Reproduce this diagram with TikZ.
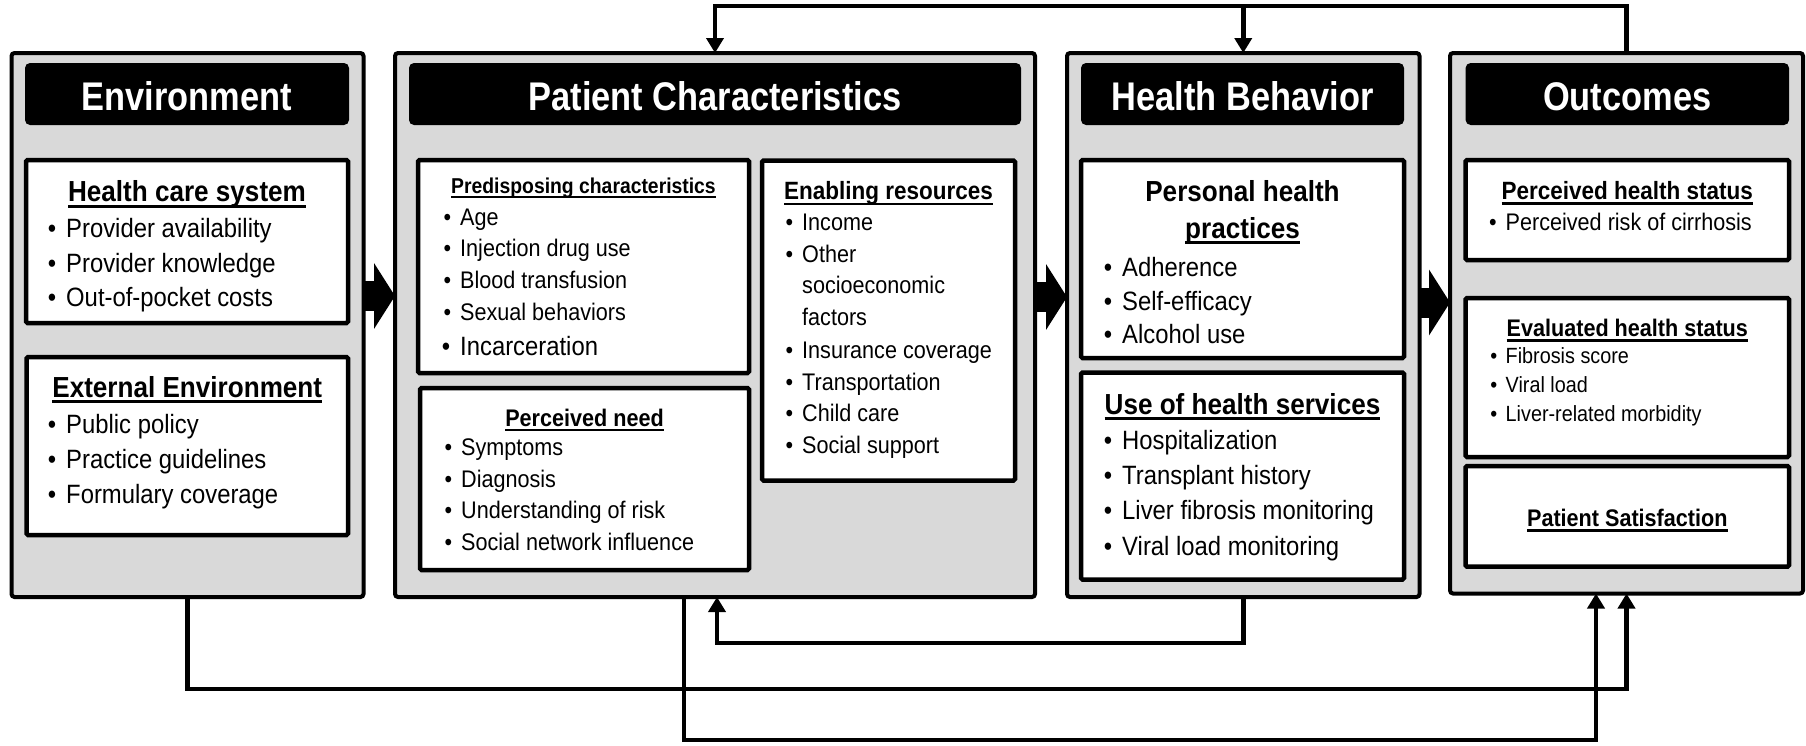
\documentclass[tikz,border=0pt]{standalone}
\usepackage{fontspec}
\setmainfont{Liberation Sans}[FakeStretch=0.9]
\newfontfamily\ttlfont{Liberation Sans}[FakeStretch=0.86]
\usetikzlibrary{arrows.meta}
\definecolor{boxgray}{RGB}{217,217,217}
\newcommand{\fsz}[1]{\fontsize{#1}{#1}\selectfont}
\newcommand{\myul}[1]{\setbox0=\hbox{#1}\leavevmode\rlap{\rule[-0.22em]{\wd0}{0.1em}}\box0}
\newcommand{\bitem}[1]{\llap{\textbullet\hspace{0.38em}}#1}
\begin{document}
\begin{tikzpicture}[x=1pt,y=-1pt,
  outerbox/.style={draw, line width=4pt, fill=boxgray, rounded corners=3pt, inner sep=0pt, outer sep=0pt},
  titlebar/.style={fill=black, rounded corners=5pt, inner sep=0pt, outer sep=0pt, minimum height=62pt},
  innerbox/.style={draw, line width=4.5pt, fill=white, rounded corners=1.5pt, inner sep=0pt, outer sep=0pt},
  ttl/.style={text=white, font=\ttlfont\bfseries\fsz{40}, inner sep=0pt, anchor=base},
  hd/.style={inner sep=0pt, anchor=base},
  bl/.style={inner sep=0pt, anchor=base west},
  conn/.style={line width=4.5pt, line join=miter},
  arr/.style={-{Triangle[width=17pt,length=15pt]}},
  blockarr/.style={line width=30pt, -{Triangle[width=65pt,length=21pt]}},
]
\useasboundingbox (0,0) rectangle (1806,745);

% outer boxes
\node[outerbox, minimum width=352pt, minimum height=544pt] (env) at (187.5,325) {};
\node[outerbox, minimum width=640pt, minimum height=544pt] (pat) at (715,325) {};
\node[outerbox, minimum width=352.5pt, minimum height=544pt] (hb) at (1243.25,325) {};
\node[outerbox, minimum width=353pt, minimum height=540.5pt] (out) at (1626.5,323.25) {};

% title bars
\node[titlebar, minimum width=324pt] (envT) at (187,94) {};
\node[ttl] (envTt) at (187,110) {Environment};
\node[titlebar, minimum width=612pt] (patT) at (715,94) {};
\node[ttl] (patTt) at (715,110) {Patient Characteristics};
\node[titlebar, minimum width=323pt] (hbT) at (1242.5,94) {};
\node[ttl] (hbTt) at (1242.5,110) {Health Behavior};
\node[titlebar, minimum width=323.4pt] (outT) at (1627.3,94) {};
\node[ttl] (outTt) at (1627.3,110) {Outcomes};

% Environment
\node[innerbox, minimum width=322pt, minimum height=163pt] (hcs) at (187,241.5) {};
\node[hd, font=\bfseries\fsz{29}] (hcsH) at (187,201.7) {\myul{Health care system}};
\node[bl, font=\fsz{26.5}] (hcs1) at (66,237.7) {\bitem{Provider availability}};
\node[bl, font=\fsz{26.5}] (hcs2) at (66,272.2) {\bitem{Provider knowledge}};
\node[bl, font=\fsz{26.5}] (hcs3) at (66,306.7) {\bitem{Out-of-pocket costs}};

\node[innerbox, minimum width=321.5pt, minimum height=178pt] (ext) at (187.25,446) {};
\node[hd, font=\bfseries\fsz{29}] (extH) at (187.25,397) {\myul{External Environment}};
\node[bl, font=\fsz{26.5}] (ext1) at (66,433.5) {\bitem{Public policy}};
\node[bl, font=\fsz{26.5}] (ext2) at (66,468.5) {\bitem{Practice guidelines}};
\node[bl, font=\fsz{26.5}] (ext3) at (66,503.5) {\bitem{Formulary coverage}};

% Patient characteristics
\node[innerbox, minimum width=331pt, minimum height=213pt] (pre) at (583.5,266.5) {};
\node[hd, font=\bfseries\fsz{21.5}] (preH) at (583.5,193) {\myul{Predisposing characteristics}};
\node[bl, font=\fsz{24}] (pre1) at (460,225) {\bitem{Age}};
\node[bl, font=\fsz{24}] (pre2) at (460,256.7) {\bitem{Injection drug use}};
\node[bl, font=\fsz{24}] (pre3) at (460,288.3) {\bitem{Blood transfusion}};
\node[bl, font=\fsz{24}] (pre4) at (460,320) {\bitem{Sexual behaviors}};
\node[bl, font=\fsz{26.5}] (pre5) at (460,355) {\bitem{Incarceration}};

\node[innerbox, minimum width=329pt, minimum height=182pt] (pn) at (584.5,479) {};
\node[hd, font=\bfseries\fsz{24}] (pnH) at (584.5,426) {\myul{Perceived need}};
\node[bl, font=\fsz{24}] (pn1) at (461,455.5) {\bitem{Symptoms}};
\node[bl, font=\fsz{24}] (pn2) at (461,487) {\bitem{Diagnosis}};
\node[bl, font=\fsz{24}] (pn3) at (461,518.5) {\bitem{Understanding of risk}};
\node[bl, font=\fsz{24}] (pn4) at (461,550.5) {\bitem{Social network influence}};

\node[innerbox, minimum width=253pt, minimum height=320pt] (enb) at (888.5,320.5) {};
\node[hd, font=\bfseries\fsz{25}] (enbH) at (888.5,199.5) {\myul{Enabling resources}};
\node[bl, font=\fsz{24}] (enb1) at (802,230.5) {\bitem{Income}};
\node[bl, font=\fsz{24}] (enb2) at (802,262) {\bitem{Other}};
\node[bl, font=\fsz{24}] (enb2b) at (802,293.5) {socioeconomic};
\node[bl, font=\fsz{24}] (enb2c) at (802,325) {factors};
\node[bl, font=\fsz{24}] (enb3) at (802,358) {\bitem{Insurance coverage}};
\node[bl, font=\fsz{24}] (enb4) at (802,390) {\bitem{Transportation}};
\node[bl, font=\fsz{24}] (enb5) at (802,421.7) {\bitem{Child care}};
\node[bl, font=\fsz{24}] (enb6) at (802,453.5) {\bitem{Social support}};

% Health behavior
\node[innerbox, minimum width=323pt, minimum height=198pt] (php) at (1242.5,259) {};
\node[hd, font=\bfseries\fsz{29}] (phpH1) at (1242.5,201.7) {Personal health};
\node[hd, font=\bfseries\fsz{29}] (phpH2) at (1242.5,238) {\myul{practices}};
\node[bl, font=\fsz{26.5}] (php1) at (1122,276.5) {\bitem{Adherence}};
\node[bl, font=\fsz{26.5}] (php2) at (1122,310) {\bitem{Self-efficacy}};
\node[bl, font=\fsz{26.5}] (php3) at (1122,343.5) {\bitem{Alcohol use}};

\node[innerbox, minimum width=323pt, minimum height=207pt] (uhs) at (1242.5,476) {};
\node[hd, font=\bfseries\fsz{29}] (uhsH) at (1242.5,414) {\myul{Use of health services}};
\node[bl, font=\fsz{26.5}] (uhs1) at (1122,449.5) {\bitem{Hospitalization}};
\node[bl, font=\fsz{26.5}] (uhs2) at (1122,484.5) {\bitem{Transplant history}};
\node[bl, font=\fsz{26.5}] (uhs3) at (1122,519.5) {\bitem{Liver fibrosis monitoring}};
\node[bl, font=\fsz{26.5}] (uhs4) at (1122,555) {\bitem{Viral load monitoring}};

% Outcomes
\node[innerbox, minimum width=323.4pt, minimum height=100pt] (phs) at (1627.3,210) {};
\node[hd, font=\bfseries\fsz{25}] (phsH) at (1627.3,199) {\myul{Perceived health status}};
\node[bl, font=\fsz{24}] (phs1) at (1505.5,230.5) {\bitem{Perceived risk of cirrhosis}};

\node[innerbox, minimum width=323.4pt, minimum height=159pt] (ehs) at (1627.3,377.5) {};
\node[hd, font=\bfseries\fsz{24}] (ehsH) at (1627.3,336.5) {\myul{Evaluated health status}};
\node[bl, font=\fsz{22}] (ehs1) at (1505.5,363.5) {\bitem{Fibrosis score}};
\node[bl, font=\fsz{22}] (ehs2) at (1505.5,392.5) {\bitem{Viral load}};
\node[bl, font=\fsz{22}] (ehs3) at (1505.5,421.5) {\bitem{Liver-related morbidity}};

\node[innerbox, minimum width=323.4pt, minimum height=100.7pt] (psat) at (1627.3,516.35) {};
\node[hd, font=\bfseries\fsz{24}] (psatH) at (1627.3,526.5) {\myul{Patient Satisfaction}};

% block arrows
\draw[blockarr] ([yshift=29pt]env.east) -- ([yshift=29pt]pat.west);
\draw[blockarr] ([yshift=28pt]pat.east) -- ([yshift=28pt]hb.west);
\draw[blockarr] ([yshift=22.5pt]hb.east) -- ([yshift=20.75pt]out.west);

% feedback connectors
\coordinate (topL) at (715,6);
\draw[conn, arr] (out.north) |- (topL) -- (pat.north);
\draw[conn, arr] (hb.north |- topL) -- (hb.north);

\coordinate (b1) at (1626.5,689);
\draw[conn, arr] (env.south) |- (b1) -- (out.south);
\coordinate (b2) at (1596,740);
\draw[conn, arr] ([xshift=-31pt]pat.south) |- (b2) -- (b2 |- out.south);
\coordinate (b3) at (717,643);
\draw[conn, arr] (hb.south) |- (b3) -- (b3 |- pat.south);
\end{tikzpicture}
\end{document}
